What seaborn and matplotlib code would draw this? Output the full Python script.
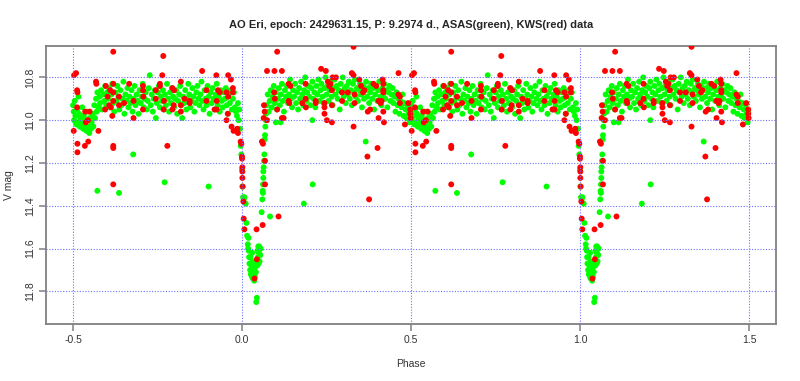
import pandas as pd
import numpy as np
import matplotlib
matplotlib.use("Agg")
import matplotlib.pyplot as plt
import seaborn as sns

# ASAS (green) light curve, phase folded to [-0.5, 0.5)
green_phase = [
    # secondary minimum
    -0.500, -0.498, -0.497, -0.495, -0.493, -0.490, -0.488, -0.486, -0.484, -0.482,
    -0.480, -0.478, -0.475, -0.473, -0.470, -0.468, -0.466, -0.463, -0.460, -0.458,
    -0.455, -0.452, -0.450, -0.447, -0.445, -0.442, -0.440, -0.437, -0.435, -0.432,
    -0.430, -0.428, -0.425, -0.422, -0.420, -0.417, -0.414, -0.411, -0.408, -0.405,
    -0.402, -0.399,
    # out of eclipse
    -0.396, -0.393, -0.390, -0.387, -0.384, -0.381, -0.378, -0.375, -0.372, -0.369,
    -0.366, -0.363, -0.360, -0.357, -0.354, -0.351, -0.348, -0.345, -0.342, -0.339,
    -0.336, -0.333, -0.330, -0.327, -0.324, -0.321, -0.318, -0.315, -0.312, -0.309,
    -0.306, -0.303, -0.300, -0.297, -0.294, -0.291, -0.288, -0.285, -0.282, -0.279,
    -0.276, -0.273, -0.270, -0.267, -0.264, -0.261, -0.258, -0.255, -0.252, -0.249,
    -0.246, -0.243, -0.240, -0.237, -0.234, -0.231, -0.228, -0.225, -0.222, -0.219,
    -0.216, -0.213, -0.210, -0.207, -0.204, -0.201, -0.198, -0.195, -0.192, -0.189,
    -0.186, -0.183, -0.180, -0.177, -0.174, -0.171, -0.168, -0.165, -0.162, -0.159,
    -0.156, -0.153, -0.150, -0.147, -0.144, -0.141, -0.138, -0.135, -0.132, -0.129,
    -0.126, -0.123, -0.120, -0.117, -0.114, -0.111, -0.108, -0.105, -0.102, -0.099,
    -0.096, -0.093, -0.090, -0.087, -0.084, -0.081, -0.078, -0.075, -0.072, -0.069,
    -0.066, -0.063, -0.060, -0.057, -0.054, -0.051, -0.048, -0.045, -0.042, -0.039,
    -0.036, -0.033, -0.030, -0.027, -0.024, -0.021, -0.018,
    # primary eclipse
    -0.015, -0.012, -0.010, -0.008, -0.006, -0.004, -0.002, 0.000, 0.001, 0.003,
    0.005, 0.007, 0.011, 0.013, 0.015, 0.017, 0.018, 0.019, 0.020, 0.021,
    0.022, 0.024, 0.025, 0.026, 0.028, 0.029, 0.030, 0.031, 0.032, 0.033,
    0.034, 0.035, 0.036, 0.037, 0.038, 0.040, 0.041, 0.042, 0.044, 0.045,
    0.046, 0.047, 0.048, 0.049, 0.050, 0.051, 0.052, 0.054, 0.055, 0.058,
    0.060, 0.061, 0.062, 0.062, 0.063, 0.063, 0.064, 0.065, 0.066, 0.067,
    0.068, 0.069, 0.070, 0.071, 0.083, 0.100, 0.114,
    # out of eclipse
    0.073, 0.076, 0.079, 0.082, 0.085, 0.088, 0.091, 0.094, 0.097, 0.100,
    0.103, 0.106, 0.109, 0.112, 0.115, 0.118, 0.121, 0.124, 0.127, 0.130,
    0.133, 0.136, 0.139, 0.142, 0.145, 0.148, 0.151, 0.154, 0.157, 0.160,
    0.163, 0.166, 0.169, 0.172, 0.175, 0.178, 0.181, 0.184, 0.187, 0.190,
    0.193, 0.196, 0.199, 0.202, 0.205, 0.208, 0.211, 0.214, 0.217, 0.220,
    0.223, 0.226, 0.229, 0.232, 0.235, 0.238, 0.241, 0.244, 0.247, 0.250,
    0.253, 0.256, 0.259, 0.262, 0.265, 0.268, 0.271, 0.274, 0.277, 0.280,
    0.283, 0.286, 0.289, 0.292, 0.295, 0.298, 0.301, 0.304, 0.307, 0.310,
    0.313, 0.316, 0.319, 0.322, 0.325, 0.328, 0.331, 0.334, 0.337, 0.340,
    0.343, 0.346, 0.349, 0.352, 0.355, 0.358, 0.361, 0.364, 0.367, 0.370,
    0.373, 0.376, 0.379, 0.382, 0.385, 0.388, 0.391, 0.394, 0.397, 0.400,
    0.403, 0.406, 0.409, 0.412, 0.415, 0.418, 0.421, 0.424, 0.427, 0.430,
    0.433, 0.436, 0.439, 0.442, 0.445, 0.448, 0.451, 0.454, 0.457, 0.460,
    0.463, 0.466, 0.469, 0.472, 0.475, 0.478, 0.481, 0.484, 0.487, 0.490,
    0.493, 0.496, 0.498,
    # outliers
    -0.428, -0.364, -0.322, -0.229, -0.099, 0.183, 0.209, 0.366, 0.208,
]
green_mag = [
    10.93, 10.96, 11.00, 10.91, 10.98, 11.02, 10.95, 11.01, 10.89, 10.97,
    11.03, 10.99, 11.01, 10.94, 11.04, 10.98, 11.02, 11.00, 11.05, 10.96,
    11.03, 11.06, 10.99, 11.04, 11.01, 10.97, 11.03, 10.93, 10.99, 10.90,
    10.96, 10.87, 10.94, 10.89, 10.92, 10.86, 10.95, 10.88, 10.91, 10.84,
    10.93, 10.87,
    10.90, 10.85, 10.94, 10.88, 10.83, 10.92, 10.96, 10.87, 10.91, 10.84,
    10.89, 10.95, 10.86, 10.93, 10.90, 10.82, 10.97, 10.88, 10.91, 10.85,
    10.94, 10.89, 10.92, 10.86, 10.96, 10.90, 10.84, 10.93, 10.88, 10.91,
    10.97, 10.86, 10.92, 10.89, 10.83, 10.94, 10.90, 10.87, 10.95, 10.91,
    10.85, 10.79, 10.93, 10.88, 10.96, 10.90, 10.86, 10.99, 10.92, 10.87,
    10.84, 10.94, 10.89, 10.91, 10.86, 10.95, 10.88, 10.93, 10.83, 10.90,
    10.96, 10.87, 10.92, 10.85, 10.89, 10.94, 10.90, 10.86, 10.97, 10.91,
    10.88, 10.84, 10.93, 10.99, 10.89, 10.92, 10.86, 10.95, 10.90, 10.83,
    10.88, 10.94, 10.91, 10.85, 10.89, 10.96, 10.92, 10.87, 10.84, 10.90,
    10.93, 10.88, 10.82, 10.91, 10.95, 10.86, 10.90, 10.93, 10.84, 10.89,
    10.97, 10.87, 10.92, 10.85, 10.90, 10.95, 10.88, 10.83, 10.93, 10.89,
    10.96, 10.86, 10.91, 10.94, 10.87, 10.90, 10.85, 10.93, 10.97, 10.88,
    10.92, 10.86, 10.95, 10.90, 10.87, 10.94, 10.96,
    10.98, 10.92, 11.00, 10.95, 11.04, 11.12, 11.16, 11.23, 11.31, 11.36,
    11.37, 11.36, 11.39, 11.48, 11.54, 11.58, 11.60, 11.55, 11.61, 11.64,
    11.67, 11.70, 11.64, 11.72, 11.68, 11.73, 11.62, 11.66, 11.74, 11.70,
    11.67, 11.72, 11.75, 11.69, 11.73, 11.66, 11.71, 11.85, 11.83, 11.68,
    11.61, 11.64, 11.59, 11.67, 11.62, 11.59, 11.66, 11.63, 11.60, 11.43,
    11.37, 11.33, 11.34, 11.30, 11.27, 11.24, 11.22, 11.19, 11.16, 11.09,
    11.07, 11.03, 11.00, 10.97, 11.45, 11.01, 11.01,
    10.93, 10.88, 10.96, 10.91, 10.86, 10.94, 10.89, 10.84, 10.92, 10.87,
    10.95, 10.90, 10.85, 10.93, 10.88, 10.83, 10.91, 10.96, 10.86, 10.89,
    10.84, 10.92, 10.88, 10.81, 10.90, 10.94, 10.86, 10.89, 10.83, 10.92,
    10.87, 10.95, 10.85, 10.90, 10.82, 10.88, 10.93, 10.86, 10.80, 10.91,
    10.87, 10.84, 10.89, 10.93, 10.85, 10.82, 10.90, 10.87, 10.94, 10.84,
    10.88, 10.81, 10.91, 10.86, 10.83, 10.89, 10.92, 10.85, 10.80, 10.88,
    10.84, 10.91, 10.86, 10.82, 10.89, 10.93, 10.85, 10.81, 10.88, 10.84,
    10.90, 10.86, 10.95, 10.83, 10.87, 10.80, 10.89, 10.85, 10.92, 10.84,
    10.88, 10.82, 10.90, 10.86, 10.93, 10.83, 10.87, 10.81, 10.89, 10.85,
    10.91, 10.86, 10.83, 10.88, 10.94, 10.84, 10.90, 10.86, 10.82, 10.89,
    10.85, 10.92, 10.87, 10.83, 10.90, 10.85, 10.95, 10.88, 10.84, 10.91,
    10.86, 10.82, 10.89, 10.93, 10.85, 10.88, 10.83, 10.90, 10.86, 10.94,
    10.87, 10.84, 10.91, 10.88, 10.85, 10.92, 10.89, 10.96, 10.87, 10.93,
    10.90, 10.97, 10.91, 10.94, 10.88, 10.98, 10.92, 10.95, 10.99, 10.93,
    10.97, 11.01, 10.96,
    11.33, 11.34, 11.16, 11.29, 11.31, 11.39, 11.30, 11.10, 11.00,
]

# KWS (red) light curve, phase folded to [-0.5, 0.5)
red_phase = [
    -0.497, -0.491, -0.488, -0.487, -0.488, -0.487, -0.487, -0.498, -0.464, -0.451,
    -0.462, -0.465, -0.455, -0.456, -0.425, -0.432, -0.431, -0.403, -0.390, -0.405,
    -0.398, -0.393, -0.388, -0.381, -0.381, -0.381, -0.381, -0.384, -0.381, -0.381,
    -0.381, -0.364, -0.364, -0.349, -0.334, -0.321, -0.321, -0.293, -0.293, -0.292,
    -0.293, -0.255, -0.255, -0.243, -0.243, -0.236, -0.233, -0.231, -0.232, -0.221,
    -0.206, -0.201, -0.206, -0.202, -0.181, -0.181, -0.181, -0.170, -0.155, -0.155,
    -0.118, -0.105, -0.105, -0.081, -0.076, -0.075, -0.075, -0.071, -0.066, -0.046,
    -0.041, -0.041, -0.033, -0.027, -0.027, -0.046, -0.042, -0.031, -0.025, -0.014,
    -0.012, -0.004, -0.002, 0.000, 0.000, 0.001, 0.001, 0.001, 0.002, 0.004,
    0.005, 0.007, 0.037, 0.044, 0.043, 0.061, 0.068, 0.068, 0.059, 0.062,
    0.064, 0.067, 0.065, 0.074, 0.074, 0.096, 0.104, 0.104, 0.095, 0.097,
    0.108, 0.118, 0.118, 0.123, 0.138, 0.143, 0.138, 0.140, 0.178, 0.188,
    0.188, 0.189, 0.218, 0.218, 0.234, 0.244, 0.244, 0.244, 0.248, 0.251,
    0.254, 0.258, 0.262, 0.266, 0.266, 0.266, 0.268, 0.278, 0.296, 0.296,
    0.313, 0.325, 0.330, 0.330, 0.330, 0.333, 0.333, 0.347, 0.352, 0.358,
    0.362, 0.371, 0.372, 0.376, 0.379, 0.389, 0.397, 0.401, 0.404, 0.404,
    0.410, 0.413, 0.416, 0.418, 0.418, 0.418, 0.418, 0.420, 0.463, 0.463,
    0.467, 0.467, 0.482, 0.492, 0.498, 0.498, 0.499,
]
red_mag = [
    10.79, 10.78, 10.86, 10.87, 10.94, 11.11, 11.15, 11.05, 10.96, 10.96,
    11.01, 11.12, 11.10, 11.00, 11.05, 10.82, 10.83, 10.84, 10.86, 10.95,
    10.89, 10.93, 10.94, 10.68, 10.83, 10.87, 10.91, 10.98, 11.12, 11.13,
    11.30, 10.89, 10.93, 10.92, 10.83, 10.91, 10.99, 10.84, 10.86, 10.89,
    10.95, 10.86, 10.90, 10.83, 10.84, 10.79, 10.70, 10.91, 10.95, 11.12,
    10.85, 10.86, 10.95, 10.93, 10.82, 10.93, 10.96, 10.90, 10.91, 10.92,
    10.77, 10.86, 10.91, 10.95, 10.79, 10.91, 10.95, 10.86, 10.87, 10.87,
    10.89, 10.79, 10.81, 10.85, 10.87, 11.00, 10.97, 11.03, 11.05, 11.04,
    11.06, 11.10, 11.11, 11.17, 11.18, 11.22, 11.24, 11.27, 11.31, 11.38,
    11.46, 11.51, 11.74, 11.65, 11.51, 11.49, 11.30, 11.19, 11.10, 11.11,
    10.99, 10.96, 10.93, 10.77, 11.00, 10.77, 10.68, 10.95, 10.87, 10.90,
    11.45, 10.77, 10.99, 10.99, 10.83, 10.84, 10.91, 10.92, 10.92, 10.83,
    10.90, 10.94, 10.91, 10.92, 10.76, 10.92, 10.94, 10.97, 10.77, 11.00,
    10.82, 10.84, 10.83, 10.86, 10.93, 11.01, 10.80, 10.80, 10.87, 10.91,
    10.87, 10.78, 10.79, 10.657, 11.03, 10.88, 10.92, 10.81, 10.84, 10.87,
    10.86, 11.17, 10.96, 11.37, 10.95, 10.83, 10.84, 11.13, 10.91, 10.99,
    10.92, 10.91, 10.81, 10.83, 10.86, 10.87, 10.96, 11.01, 10.78, 10.88,
    10.89, 10.92, 11.02, 10.92, 10.95, 10.97, 10.99,
]

x_ticks = [-0.5, 0.0, 0.5, 1.0, 1.5]
y_ticks = [10.8, 11.0, 11.2, 11.4, 11.6, 11.8]


def two_cycles(phase, mag):
    df = pd.DataFrame({"Phase": phase, "Vmag": mag})
    return pd.concat([df, df.assign(Phase=df["Phase"] + 1)], ignore_index=True)


asas = two_cycles(green_phase, green_mag)
kws = two_cycles(red_phase, red_mag)

sns.set_style("white")
plt.rcParams['font.family'] = ['Liberation Sans', 'DejaVu Sans']

fig = plt.figure(figsize=(8, 3.81), dpi=100)
ax = fig.add_axes([0.0575, 0.1504, 0.9125, 0.7296])

sns.scatterplot(x='Phase', y='Vmag', data=asas, color='#00ff00', s=18,
                linewidth=0, edgecolor='none', ax=ax, zorder=2)
sns.scatterplot(x='Phase', y='Vmag', data=kws, color='#ff0000', s=18,
                linewidth=0, edgecolor='none', ax=ax, zorder=3)

# R style dotted grid at the tick positions
for xv in x_ticks:
    ax.axvline(xv, color='#7070ff', linestyle=(0, (1, 1.5)), linewidth=0.8, zorder=4)
for yv in y_ticks:
    ax.axhline(yv, color='#7070ff', linestyle=(0, (1, 1.5)), linewidth=0.8, zorder=4)

ax.set_xlim(-0.58, 1.58)
ax.set_ylim(11.951, 10.652)
ax.set_xticks(x_ticks)
ax.set_xticklabels(['-0.5', '0.0', '0.5', '1.0', '1.5'])
ax.set_yticks(y_ticks)
ax.set_yticklabels(['10.8', '11.0', '11.2', '11.4', '11.6', '11.8'],
                   rotation=90, va='center')

for side in ['left', 'right', 'top', 'bottom']:
    ax.spines[side].set_color('#808080')
    ax.spines[side].set_linewidth(1.3)
ax.tick_params(axis='both', which='both', direction='out', length=5, width=1.1,
               color='#808080', labelcolor='#333333', labelsize=7.5, pad=3,
               bottom=True, left=True)

ax.set_xlabel('Phase', fontsize=7.5, color='#333333', labelpad=10)
ax.set_ylabel('V mag', fontsize=7.5, color='#333333', labelpad=8)
ax.set_title('AO Eri, epoch: 2429631.15, P: 9.2974 d., ASAS(green), KWS(red) data',
             fontsize=8, fontweight='bold', pad=13)

fig.savefig('out.png', dpi=100)
